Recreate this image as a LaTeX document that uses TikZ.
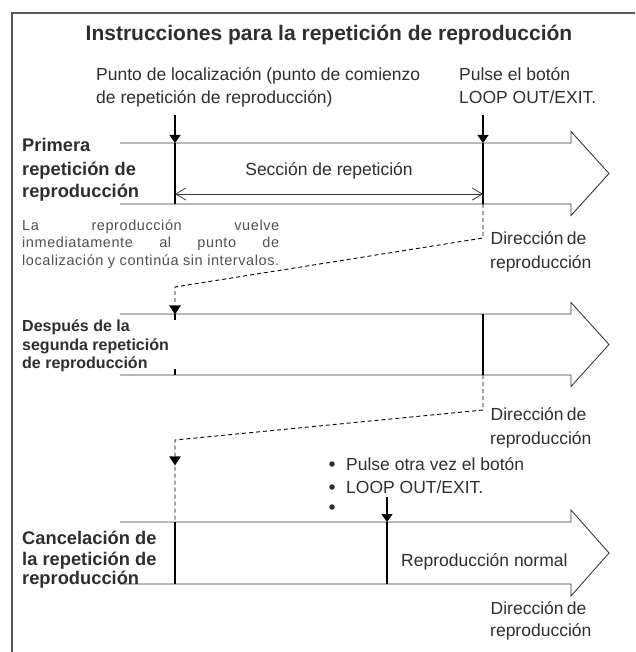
\documentclass[tikz,border=0pt]{standalone}
\usepackage{fontspec}
\setmainfont{Liberation Sans}
\usetikzlibrary{arrows.meta}
\definecolor{txt}{HTML}{2E2E2E}
\definecolor{gtxt}{HTML}{505050}
\definecolor{frm}{HTML}{5A5A5A}
\definecolor{aline}{HTML}{3A3A3A}
\newlength\rlen
\newcommand\bodyf{\fontsize{17.5}{21}\selectfont}
\newcommand\lblf{\bfseries\fontsize{18.3}{22}\selectfont}
\newcommand\lblsf{\bfseries\fontsize{16}{19}\selectfont}
\newcommand\smallf{\fontsize{14.5}{17}\selectfont\addfontfeatures{LetterSpace=4}}
\begin{document}
\begin{tikzpicture}[x=1pt,y=-1pt,
  every node/.style={inner sep=0pt,text=txt},
  body/.style={font=\bodyf,anchor=base west},
  lbl/.style={font=\lblf,anchor=base west},
  lbls/.style={font=\lblsf,anchor=base west},
  small/.style={font=\smallf,anchor=base west,text=gtxt},
  outline/.style={draw=aline,line width=0.9pt,line join=miter},
  vline/.style={draw=black,line width=1.1pt},
  downarr/.style={draw=black,line width=1.1pt,-{Triangle[length=8pt,width=11pt]}},
  dashline/.style={draw=black,line width=0.9pt,dash pattern=on 4pt off 3pt},
  dblarr/.style={draw=aline,line width=0.8pt,{Straight Barb[length=10pt,width=12pt]}-{Straight Barb[length=10pt,width=12pt]}},
  bullet/.style={circle,fill=txt,minimum size=5.5pt}]
\useasboundingbox (0,0) rectangle (635,652);
\settowidth{\rlen}{\bodyf reproducción}
% frame
\draw[frm,line width=1.6pt] (12,652) -- (12,13) -- (635,13);
% title
\node[font=\bfseries\fontsize{21}{25}\selectfont,anchor=base] (title) at (329,40.5) {Instrucciones para la repetición de reproducción};
% top labels
\node[body] (loc1) at (96,81) {Punto de localización (punto de comienzo};
\node[body] (loc2) at (96,104) {de repetición de reproducción)};
\node[body] (out1) at (459,81) {Pulse el botón};
\node[body] (out2) at (459,104) {LOOP OUT/EXIT.};
% ---- arrow 1
\draw[outline] (120,143) -- (571,143) -- (571,131.5) -- (609,173.5) -- (571,215.5) -- (571,204) -- (120,204);
\coordinate (d1s) at (175,115); \coordinate (d1e) at (175,143);
\coordinate (d2s) at (483,115); \coordinate (d2e) at (483,143);
\coordinate (b1l) at (175,204); \coordinate (b1r) at (483,204);
\draw[downarr] (d1s) -- (d1e);
\draw[downarr] (d2s) -- (d2e);
\draw[vline] (d1e) -- (b1l);
\draw[vline] (d2e) -- (b1r);
\coordinate (s1) at (175,194); \coordinate (s2) at (483,194);
\draw[dblarr] (s1) -- (s2);
\node[body,anchor=base] (secc) at (329,176) {Sección de repetición};
\node[lbl] (p1) at (22,152) {Primera};
\node[lbl] (p2) at (22,176) {repetición de};
\node[lbl] (p3) at (22,198) {reproducción};
\node[small] (sm1) at (22,230) {\makebox[257pt][s]{La reproducción vuelve}};
\node[small] (sm2) at (22,247.5) {\makebox[257pt][s]{inmediatamente al punto de}};
\node[small] (sm3) at (22,265) {\makebox[257pt][s]{localización\hspace{1pt plus 1fil}y\hspace{1pt plus 1fil}continúa\hspace{1pt plus 1fil}sin\hspace{1pt plus 1fil}intervalos.}};
\node[body] (dir1a) at (490,244) {\makebox[\rlen][s]{Dirección de}};
\node[body] (dir1b) at (490,268) {reproducción};
% dashed link 1
\coordinate (k1a) at (483,238); \coordinate (k1b) at (175,287); \coordinate (a2l) at (175,314);
\draw[dashline] (b1r) -- (k1a) -- (k1b) -- (a2l);
\draw[black,fill=black] (175,314) -- (169.5,305.5) -- (180.5,305.5) -- cycle;
% ---- arrow 2
\draw[outline] (120,314) -- (571,314) -- (571,302.5) -- (609,344.5) -- (571,386.5) -- (571,375) -- (120,375);
\coordinate (a2r) at (483,314); \coordinate (b2r) at (483,375); \coordinate (b2l) at (175,375);
\draw[vline] (a2r) -- (b2r);
\draw[vline] (a2l) -- (175,320);
\draw[vline] (175,369) -- (b2l);
\node[lbls] (q1) at (22,331.5) {Después de la};
\node[lbls] (q2) at (22,350) {segunda repetición};
\node[lbls] (q3) at (22,368.5) {de reproducción};
\node[body] (dir2a) at (490,420) {\makebox[\rlen][s]{Dirección de}};
\node[body] (dir2b) at (490,444) {reproducción};
% dashed link 2
\coordinate (k2a) at (483,410); \coordinate (k2b) at (175,440); \coordinate (a3l) at (175,522);
\draw[dashline] (b2r) -- (k2a) -- (k2b) -- (a3l);
\draw[black,fill=black] (175,465) -- (169.5,456.5) -- (180.5,456.5) -- cycle;
% bullets
\node[bullet] (bu1) at (332,464) {};
\node[bullet] (bu2) at (332,487) {};
\node[bullet] (bu3) at (332,507) {};
\node[body] (pu1) at (346,470) {Pulse otra vez el botón};
\node[body] (pu2) at (346,493) {LOOP OUT/EXIT.};
% ---- arrow 3
\draw[outline] (120,522) -- (571,522) -- (571,510) -- (609,553) -- (571,596) -- (571,584) -- (120,584);
\coordinate (b3l) at (175,584);
\coordinate (d3s) at (387,497); \coordinate (d3e) at (387,522); \coordinate (b3m) at (387,584);
\draw[vline] (a3l) -- (b3l);
\draw[downarr] (d3s) -- (d3e);
\draw[vline] (d3e) -- (b3m);
\node[body] (norm) at (401,566) {Reproducción normal};
\node[lbl] (c1) at (22,544.5) {Cancelación de};
\node[lbl] (c2) at (22,565) {la repetición de};
\node[lbl] (c3) at (22,584) {reproducción};
\node[body] (dir3a) at (490,614) {\makebox[\rlen][s]{Dirección de}};
\node[body] (dir3b) at (490,636) {reproducción};
\end{tikzpicture}
\end{document}
